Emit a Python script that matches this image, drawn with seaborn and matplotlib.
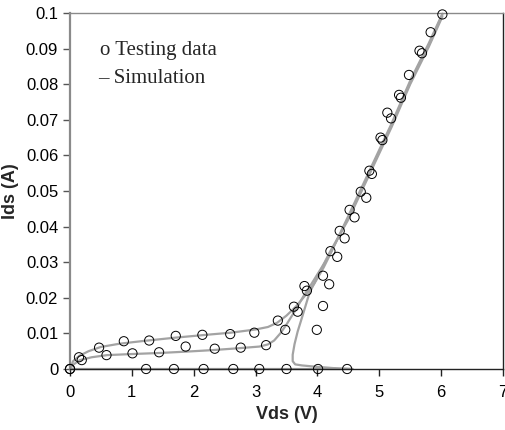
import matplotlib
matplotlib.use("Agg")
import matplotlib.pyplot as plt
import seaborn as sns
import pandas as pd

# Measured drain current (open circles), three gate-bias conditions
vds_a = [0, 0.145, 0.47, 0.87, 1.28, 1.71, 2.14, 2.59, 2.98, 3.36, 3.62, 3.79,
         4.21, 4.36, 4.52, 4.70, 4.84, 5.02, 5.13, 5.32, 5.48, 5.65, 5.83, 6.02]
ids_a = [0, 0.0033, 0.0060, 0.0078, 0.0080, 0.0093, 0.0096, 0.0098, 0.0102, 0.0136,
         0.0175, 0.0233, 0.0331, 0.0388, 0.0447, 0.0498, 0.0557, 0.0650, 0.0720,
         0.0770, 0.0826, 0.0894, 0.0946, 0.0996]

vds_b = [0.19, 0.59, 1.01, 1.44, 1.87, 2.34, 2.76, 3.17, 3.48, 3.68, 3.83, 4.09,
         4.32, 4.44, 4.60, 4.79, 4.88, 5.05, 5.19, 5.35, 5.69]
ids_b = [0.0025, 0.0039, 0.0044, 0.0047, 0.0063, 0.0057, 0.0060, 0.0067, 0.0110,
         0.0161, 0.0220, 0.0262, 0.0315, 0.0367, 0.0426, 0.0481, 0.0548, 0.0643,
         0.0704, 0.0762, 0.0887]

vds_c = [0, 1.23, 1.68, 2.16, 2.64, 3.06, 3.50, 4.01, 4.48, 3.99, 4.09, 4.19]
ids_c = [0, 0, 0, 0, 0, 0, 0, 0, 0, 0.0110, 0.0177, 0.0238]

# Simulated curves (gray lines)
sim_vds_a = [0, 0.05, 0.15, 0.3, 0.5, 0.8, 1.2, 1.7, 2.2, 2.6, 3.0, 3.2, 3.35, 3.5,
             3.65, 3.8, 3.95, 4.1, 4.2, 4.5, 4.85, 5.2, 5.5, 5.8, 6.02]
sim_ids_a = [0, 0.0022, 0.0037, 0.0050, 0.0062, 0.0071, 0.0079, 0.0088, 0.0096,
             0.0102, 0.0111, 0.0118, 0.0130, 0.0150, 0.0175, 0.0206, 0.0240, 0.0285,
             0.0320, 0.0430, 0.0560, 0.0690, 0.0810, 0.0915, 0.0998]

sim_vds_b = [0, 0.05, 0.16, 0.35, 0.6, 1.0, 1.45, 1.9, 2.3, 2.7, 3.06, 3.2, 3.3, 3.4,
             3.5, 3.65, 3.77, 3.9, 4.05, 4.2, 4.5, 4.85, 5.2, 5.5, 5.8, 6.02]
sim_ids_b = [0, 0.0012, 0.0025, 0.0033, 0.0039, 0.0042, 0.0045, 0.0049, 0.0053,
             0.0058, 0.0063, 0.0069, 0.0080, 0.0100, 0.0125, 0.0167, 0.0203, 0.0238,
             0.0280, 0.0322, 0.0425, 0.0555, 0.0685, 0.0805, 0.0910, 0.0995]

# Snapback branch: traced in sweep order, so it runs out to 4.57 V and folds back
sim_vds_c = [0, 4.57, 4.3, 4.0, 3.75, 3.64, 3.6, 3.6, 3.63, 3.68, 3.76, 3.87, 4.03,
             4.19, 4.5, 4.85, 5.2, 5.5, 5.8, 6.02]
sim_ids_c = [0, 0, 0.0002, 0.0006, 0.0010, 0.0013, 0.0022, 0.0040, 0.0070, 0.0105,
             0.0150, 0.0213, 0.0269, 0.0325, 0.0420, 0.0550, 0.0680, 0.0800, 0.0905,
             0.0990]

x_ticks = [0, 1, 2, 3, 4, 5, 6, 7]
y_ticks = [0, 0.01, 0.02, 0.03, 0.04, 0.05, 0.06, 0.07, 0.08, 0.09, 0.1]
y_tick_labels = ["0", "0.01", "0.02", "0.03", "0.04", "0.05", "0.06", "0.07",
                 "0.08", "0.09", "0.1"]

sns.set_style("ticks")
plt.rcParams["font.family"] = ["Liberation Sans", "DejaVu Sans"]

fig = plt.figure(figsize=(5.05, 4.30), dpi=100)
ax = fig.add_axes([70 / 505, 1 - 369 / 430, 433 / 505, 356 / 430])

line_color = "#a3a3a3"
sims = [(sim_vds_c, sim_ids_c), (sim_vds_b, sim_ids_b), (sim_vds_a, sim_ids_a)]
for sx, sy in sims:
    df = pd.DataFrame({"Vds": sx, "Ids": sy})
    sns.lineplot(data=df, x="Vds", y="Ids", sort=False, estimator=None,
                 color=line_color, linewidth=1.6, ax=ax, clip_on=False, zorder=2)

for mx, my in [(vds_a, ids_a), (vds_b, ids_b), (vds_c, ids_c)]:
    df = pd.DataFrame({"Vds": mx, "Ids": my})
    sns.scatterplot(data=df, x="Vds", y="Ids", marker="o", s=44,
                    facecolors="none", edgecolor="black", linewidth=0.7,
                    ax=ax, clip_on=False, zorder=3)

ax.set_xlim(0, 7)
ax.set_ylim(0, 0.1)
ax.set_xticks(x_ticks)
ax.set_xticklabels([str(t) for t in x_ticks])
ax.set_yticks(y_ticks)
ax.set_yticklabels(y_tick_labels)

ax.tick_params(axis="x", direction="out", length=5, width=1, pad=6.5,
               labelsize=12, colors="#222222", labelcolor="black")
ax.tick_params(axis="y", direction="out", length=5, width=1, pad=3.5,
               labelsize=12, colors="#555555", labelcolor="black")

for side in ["top", "right", "bottom", "left"]:
    ax.spines[side].set_visible(True)
ax.spines["left"].set_color("#8a8a8a")
ax.spines["left"].set_linewidth(1.6)
ax.spines["top"].set_color("#8a8a8a")
ax.spines["top"].set_linewidth(1.0)
ax.spines["right"].set_color("#222222")
ax.spines["right"].set_linewidth(1.0)
ax.spines["bottom"].set_color("#222222")
ax.spines["bottom"].set_linewidth(1.0)

ax.set_xlabel("Vds (V)", fontsize=13, fontweight="bold", labelpad=4)
ax.set_ylabel("Ids (A)", fontsize=13, fontweight="bold", labelpad=5)

# Key written as plain text in a serif face
serif = ["Liberation Serif", "DejaVu Serif"]
ax.text(0.485, 0.0882, "o Testing data", family=serif, fontsize=15,
        va="baseline", ha="left")
ax.text(0.45, 0.0803, "\u2013 Simulation", family=serif, fontsize=15,
        va="baseline", ha="left")

fig.savefig("out.png", dpi=100)
